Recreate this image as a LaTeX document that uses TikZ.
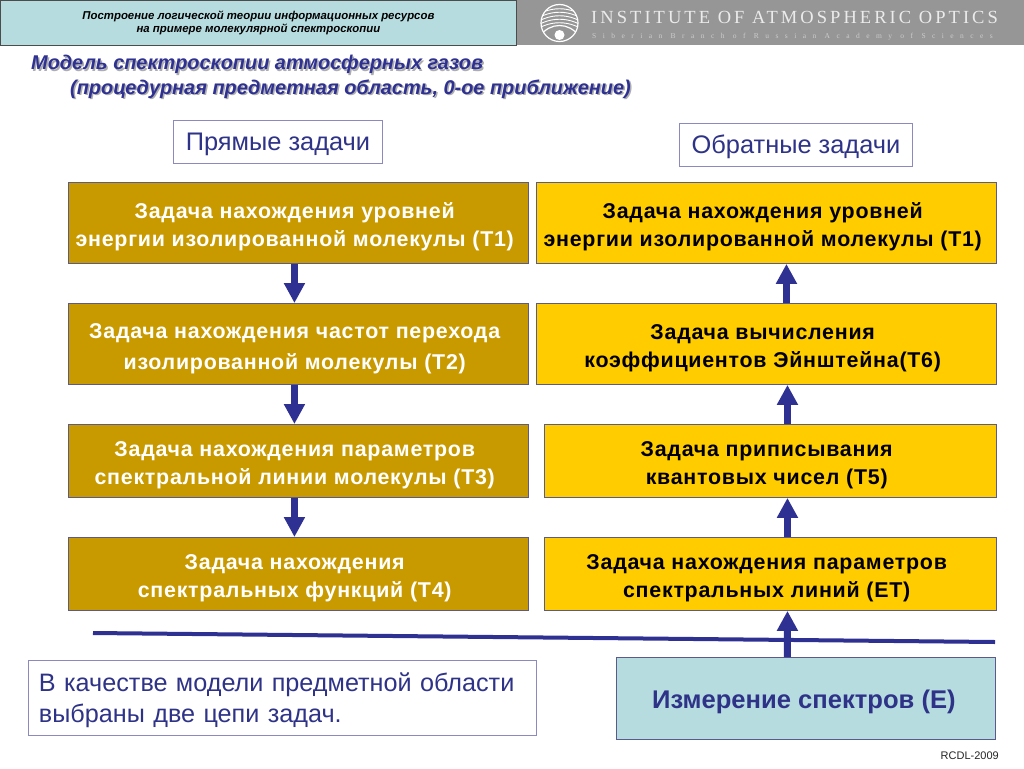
\documentclass[tikz,border=0pt]{standalone}
\usepackage{fontspec}
\setmainfont{Liberation Sans}
\newfontfamily\boxfont[LetterSpace=3.5]{Liberation Sans}
\newfontfamily\logofont[LetterSpace=16.5]{Liberation Serif}
\newfontfamily\logosmall[LetterSpace=86]{Liberation Serif}
\usetikzlibrary{arrows.meta}
\definecolor{gold}{HTML}{C99A00}
\definecolor{yel}{HTML}{FFCC00}
\definecolor{teal2}{HTML}{B6DCE0}
\definecolor{navy}{HTML}{2E3192}
\definecolor{edgec}{HTML}{5A5A8C}
\definecolor{softedge}{HTML}{8A8ABF}
\definecolor{hdrgrey}{HTML}{969696}
\definecolor{inktext}{HTML}{2E3388}
\tikzset{
  x=1pt,y=-1pt,
  taskbox/.style={draw=edgec,line width=0.9pt,inner sep=0pt,align=center,anchor=north west,font=\boxfont\bfseries\fontsize{21.4}{28}\selectfont},
  goldbox/.style={taskbox,fill=gold,text=white},
  yelbox/.style={taskbox,fill=yel,text=black},
  labelbox/.style={draw=softedge,line width=0.9pt,fill=white,inner sep=0pt,anchor=north west,text=inktext,font=\fontsize{25.4}{31}\selectfont},
  flow/.style={draw=navy,line width=7pt,-{Triangle[width=20pt,length=20pt]}},
  arcline/.style={draw=white,line width=0.9pt},
  titletext/.style={anchor=base west,inner sep=0pt,font=\bfseries\itshape\fontsize{19.9}{24}\selectfont}
}
\newcommand{\dropby}[2]{\raisebox{-#1}[\height][\depth]{#2}}
\newcommand{\tlines}[1]{\dropby{3.5pt}{\begin{tabular}{@{}c@{}}#1\end{tabular}\hspace{7.5pt}}}
\newcommand{\tbox}[7]{\node[#1,minimum width=#6pt,minimum height=#7pt] (#2) at (#4,#5) {\tlines{#3}};}
\newcommand{\lbox}[6]{\node[labelbox,minimum width=#5pt,minimum height=#6pt] (#1) at (#3,#4) {\dropby{2pt}{#2}};}
\begin{document}
\begin{tikzpicture}
\useasboundingbox (0,0) rectangle (1024,768);
\fill[white] (0,0) rectangle (1024,768);
% header
\fill[hdrgrey] (516,0) rectangle (1024,45);
\node[draw=black!70,line width=0.8pt,fill=teal2,anchor=north west,minimum width=516pt,minimum height=45pt,inner sep=0pt,align=center,font=\bfseries\itshape\fontsize{11.4}{13.5}\selectfont] (hdr) at (0,0) {Построение логической теории информационных ресурсов\\на примере молекулярной спектроскопии};
% logo
\coordinate (logoc) at (559.5,23);
\begin{scope}
\clip (logoc) circle[radius=18.5];
\foreach \t in {6,9.5,13,16.5,20}{
  \draw[arcline] (530,{\t+14}) .. controls (548,{\t-1}) and (571,{\t-1}) .. (589,{\t+14});
}
\draw[arcline,line width=1.2pt] (540,36) .. controls (550,22) and (569,22) .. (579,36);
\draw[arcline,line width=1.2pt] (540,36) .. controls (550,46) and (569,46) .. (579,36);
\fill[white] (559.5,35) circle[radius=5];
\end{scope}
\draw[draw=white,line width=1.2pt] (logoc) circle[radius=18.5];
\node[anchor=base west,inner sep=0pt,text=white!92!black,font=\logofont\fontsize{18.5}{20}\selectfont] (logot) at (591,24) {INSTITUTE OF ATMOSPHERIC OPTICS};
\node[anchor=base west,inner sep=0pt,text=white!80!black,font=\logosmall\fontsize{7.5}{9}\selectfont] (logos) at (592,38) {Siberian Branch of Russian Academy of Sciences};
% title
\node[titletext,text=black!32] (t1s) at (32.5,71.5) {Модель спектроскопии атмосферных газов};
\node[titletext,text=black!32] (t2s) at (71.5,95.5) {(процедурная предметная область, 0-ое приближение)};
\node[titletext,text=navy] (t1) at (31,70) {Модель спектроскопии атмосферных газов};
\node[titletext,text=navy] (t2) at (70,94) {(процедурная предметная область, 0-ое приближение)};
% label boxes
\lbox{pr}{Прямые задачи}{173}{120}{209}{43}
\lbox{ob}{Обратные задачи}{679}{123}{233}{43}
% tasks
\tbox{goldbox}{L1}{Задача нахождения уровней\\энергии изолированной молекулы (Т1)}{68}{182}{460}{81}
\tbox{goldbox,font=\boxfont\bfseries\fontsize{21.4}{31}\selectfont}{L2}{Задача нахождения частот перехода\\изолированной молекулы (Т2)}{68}{303}{460}{81}
\tbox{goldbox}{L3}{Задача нахождения параметров\\спектральной линии молекулы (Т3)}{68}{424}{460}{73}
\tbox{goldbox}{L4}{Задача нахождения\\спектральных функций (Т4)}{68}{537}{460}{73}
\tbox{yelbox}{R1}{Задача нахождения уровней\\энергии изолированной молекулы (Т1)}{536}{182}{460}{81}
\tbox{yelbox}{R2}{Задача вычисления\\коэффициентов Эйнштейна(Т6)}{536}{303}{460}{81}
\tbox{yelbox}{R3}{Задача приписывания\\квантовых чисел  (Т5)}{544}{424}{452}{73}
\tbox{yelbox}{R4}{Задача нахождения параметров\\спектральных линий  (ЕТ)}{544}{537}{452}{73}
% rule
\coordinate (ruleA) at (93,633);
\coordinate (ruleB) at (995,642);
\draw[draw=navy,line width=4pt] (ruleA) -- (ruleB);
% bottom
\node[labelbox,minimum width=508pt,minimum height=75pt,align=left,text width=487pt,inner xsep=10.5pt,font=\fontsize{25.2}{31}\selectfont] (note) at (28,660) {\dropby{2pt}{В качестве модели предметной области}\\\dropby{2pt}{выбраны две цепи задач.}};
\node[draw=edgec,line width=0.8pt,fill=teal2,anchor=north west,minimum width=379pt,minimum height=82pt,inner sep=0pt,text=inktext,font=\bfseries\fontsize{25.6}{30}\selectfont] (E) at (616,657) {\dropby{3pt}{Измерение спектров (Е)\hspace{4pt}}};
\node[anchor=base east,inner sep=0pt,font=\fontsize{11}{13}\selectfont,text=black!85] (rc) at (999,759) {RCDL-2009};
% arrows
\draw[flow] ([xshift=-4pt]L1.south) -- ([xshift=-4pt]L2.north);
\draw[flow] ([xshift=-4pt]L2.south) -- ([xshift=-4pt]L3.north);
\draw[flow] ([xshift=-4pt]L3.south) -- ([xshift=-4pt]L4.north);
\draw[flow] ([xshift=20pt]R2.north) -- ([xshift=20pt]R1.south);
\draw[flow] ([xshift=17pt]R3.north) -- ([xshift=21pt]R2.south);
\draw[flow] ([xshift=17pt]R4.north) -- ([xshift=17pt]R3.south);
\draw[flow] ([xshift=-18.5pt]E.north) -- ([xshift=17pt]R4.south);
\end{tikzpicture}
\end{document}
